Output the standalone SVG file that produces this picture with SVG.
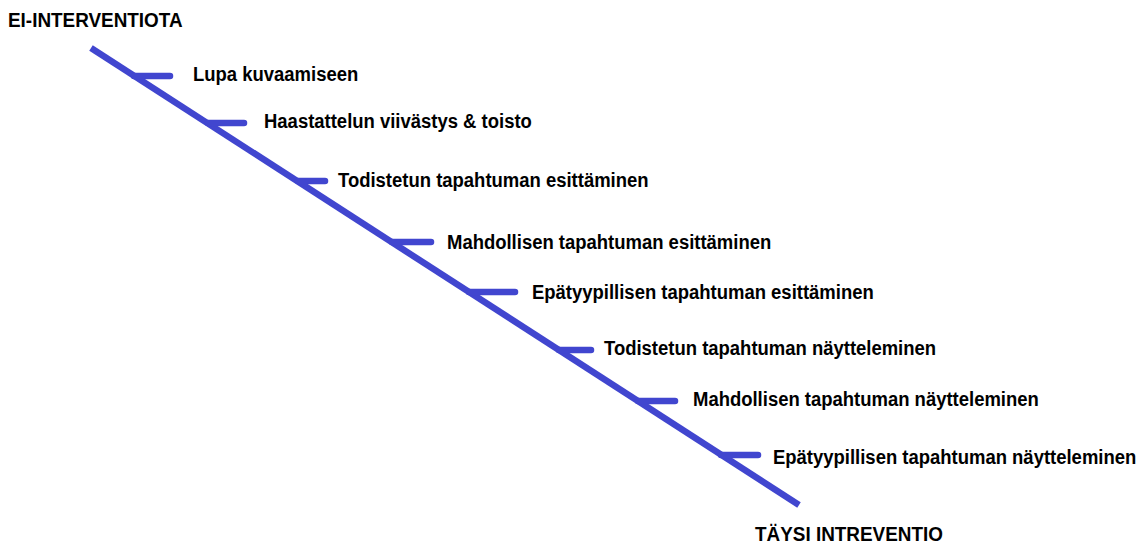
<svg xmlns="http://www.w3.org/2000/svg" width="1146" height="550" viewBox="0 0 1146 550">
<style>
.ln{stroke:#4146cf;stroke-width:6.5;fill:none}
.tk{stroke:#4146cf;stroke-width:6.5;stroke-linecap:round;fill:none}
text{font-family:"Liberation Sans",Arial,sans-serif;font-weight:bold;font-size:21px;fill:#000}
</style>
<rect width="1146" height="550" fill="#fff"/>
<g id="connectors">
<line class="ln" x1="91" y1="48" x2="799" y2="505"/>
<line class="tk" x1="134" y1="76" x2="170" y2="76"/>
<line class="tk" x1="208" y1="123" x2="244" y2="123"/>
<line class="tk" x1="298" y1="181" x2="325" y2="181"/>
<line class="tk" x1="392" y1="242" x2="431" y2="242"/>
<line class="tk" x1="469" y1="292" x2="515" y2="292"/>
<line class="tk" x1="559" y1="350" x2="591" y2="350"/>
<line class="tk" x1="638" y1="401" x2="675" y2="401"/>
<line class="tk" x1="721" y1="455" x2="758" y2="455"/>
</g>
<g id="start" transform="translate(8,27) scale(0.9,1)"><text>EI-INTERVENTIOTA</text></g>
<g id="n1" transform="translate(193,81) scale(0.88,1)"><text>Lupa kuvaamiseen</text></g>
<g id="n2" transform="translate(264,128) scale(0.88,1)"><text>Haastattelun viivästys &amp; toisto</text></g>
<g id="n3" transform="translate(338,187) scale(0.88,1)"><text>Todistetun tapahtuman esittäminen</text></g>
<g id="n4" transform="translate(447,249) scale(0.88,1)"><text>Mahdollisen tapahtuman esittäminen</text></g>
<g id="n5" transform="translate(532,299) scale(0.88,1)"><text>Epätyypillisen tapahtuman esittäminen</text></g>
<g id="n6" transform="translate(604,355) scale(0.88,1)"><text>Todistetun tapahtuman näytteleminen</text></g>
<g id="n7" transform="translate(693,406) scale(0.88,1)"><text>Mahdollisen tapahtuman näytteleminen</text></g>
<g id="n8" transform="translate(773,464) scale(0.88,1)"><text>Epätyypillisen tapahtuman näytteleminen</text></g>
<g id="end" transform="translate(755,541) scale(0.9,1)"><text>TÄYSI INTREVENTIO</text></g>
</svg>
